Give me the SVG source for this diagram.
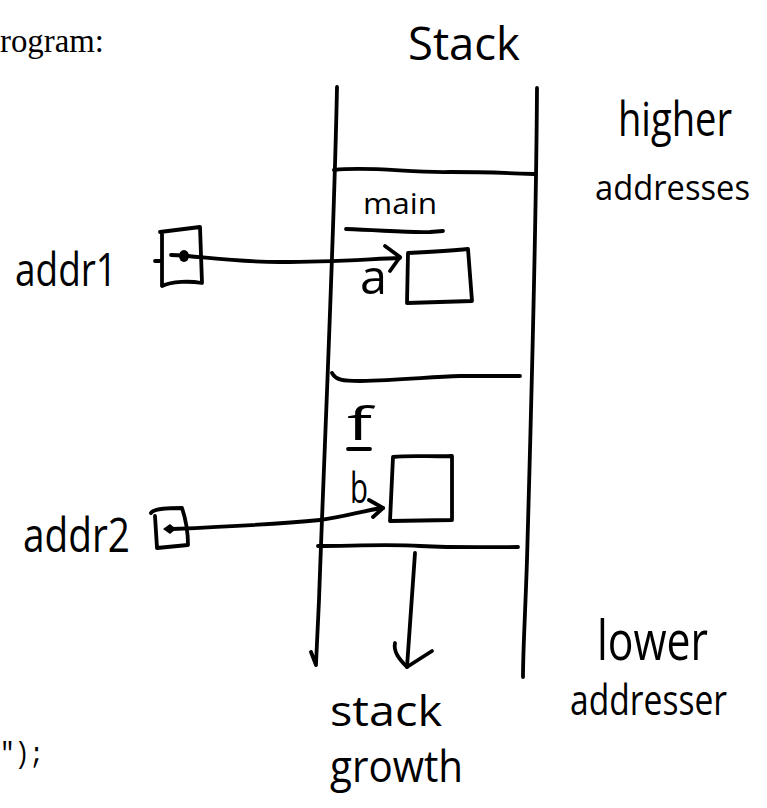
<svg xmlns="http://www.w3.org/2000/svg" width="767" height="808" viewBox="0 0 767 808">
  <style>
    .ink { fill: none; stroke: #000; stroke-width: 3.8; stroke-linecap: round; stroke-linejoin: round; }
    .hand { font-family: "Open Sans", "Liberation Sans", sans-serif; fill: #000; }
    .print { font-family: "Liberation Serif", "DejaVu Serif", serif; fill: #000; }
    .code { font-family: "Liberation Mono", "DejaVu Sans Mono", monospace; fill: #000; }
  </style>
  <rect width="767" height="808" fill="#fff"/>

  <!-- surrounding page text -->
  <text class="print" x="0" y="52" font-size="34" textLength="104" lengthAdjust="spacingAndGlyphs">rogram:</text>
  <text class="code" x="0" y="763" font-size="30" textLength="44" lengthAdjust="spacingAndGlyphs">");</text>

  <!-- the stack column -->
  <g id="stack">
    <text class="hand" x="408" y="60" font-size="46" textLength="112" lengthAdjust="spacingAndGlyphs">Stack</text>
    <path class="ink" d="M337,87 C334,240 325,430 319,600 L316,664 M311,652 L316,665"/>
    <path class="ink" d="M537,88 C536,250 530,450 527,560 C525,620 523,650 523,677"/>
  </g>

  <g id="higher-label">
    <text class="hand" x="618" y="136" font-size="48" textLength="114" lengthAdjust="spacingAndGlyphs">higher</text>
    <text class="hand" x="595" y="200" font-size="34" textLength="155" lengthAdjust="spacingAndGlyphs">addresses</text>
  </g>

  <g id="lower-label">
    <text class="hand" x="597" y="660" font-size="54" textLength="111" lengthAdjust="spacingAndGlyphs">lower</text>
    <text class="hand" x="570" y="715" font-size="42" textLength="157" lengthAdjust="spacingAndGlyphs">addresser</text>
  </g>

  <!-- frame for main -->
  <g id="frame-main">
    <path class="ink" d="M334,170 C370,166 410,173 450,172 C480,172 510,173 534,174"/>
    <text class="hand" x="363" y="214" font-size="30" textLength="74" lengthAdjust="spacingAndGlyphs">main</text>
    <path class="ink" d="M346,229 C380,230 410,233 430,232 L443,231"/>
  </g>

  <g id="var-a">
    <text class="hand" x="360" y="294" font-size="48" textLength="27" lengthAdjust="spacingAndGlyphs">a</text>
    <path class="ink" d="M408,253 C430,252 450,251 468,249 L472,301 L407,303 Z"/>
  </g>

  <!-- frame for f -->
  <g id="frame-f">
    <path class="ink" d="M332,373 C336,380 342,381 360,381 C400,380 430,377 460,376 L520,376"/>
    <text class="hand" x="347" y="440" font-size="46" textLength="25" lengthAdjust="spacingAndGlyphs">f</text>
    <path class="ink" d="M348,449 L370,449"/>
  </g>

  <g id="var-b">
    <text class="hand" x="350" y="503" font-size="42" textLength="18" lengthAdjust="spacingAndGlyphs">b</text>
    <path class="ink" d="M393,457 C410,455 435,457 452,456 L452,520 L390,521 Z"/>
  </g>

  <path class="ink" id="frame-bottom" d="M318,546 C350,546 390,544 420,546 C460,548 490,547 518,547"/>

  <!-- pointer variables -->
  <g id="addr1">
    <text class="hand" x="15" y="286" font-size="46" textLength="102" lengthAdjust="spacingAndGlyphs">addr1</text>
    <path class="ink" d="M160,232 L200,227 L202,283 C190,281 172,281 162,286 L162,232 M155,261 L162,261"/>
    <ellipse cx="184" cy="256" rx="5" ry="6" fill="#000"/>
  </g>

  <g id="addr2">
    <text class="hand" x="23" y="552" font-size="48" textLength="107" lengthAdjust="spacingAndGlyphs">addr2</text>
    <path class="ink" d="M151,513 C154,508 170,508 182,508 C186,520 188,535 188,545 L157,548 L155,516"/>
    <path d="M163,529 L170,524 L176,529 L170,534 Z" fill="#000"/>
  </g>

  <!-- connectors -->
  <g id="connectors">
    <path class="ink" d="M171,255 C200,256 230,262 280,262 C330,262 370,259 400,258"/>
    <path class="ink" d="M385,246 L400,257 L390,271"/>
    <path class="ink" d="M172,529 C220,527 280,524 320,520 C345,517 365,510 383,508"/>
    <path class="ink" d="M369,500 L383,508 L373,517"/>
    <path class="ink" d="M415,553 C412,600 409,640 407,667"/>
    <path class="ink" d="M395,643 C393,652 400,660 407,667 M432,651 L407,667"/>
  </g>

  <g id="growth-label">
    <text class="hand" x="330" y="726" font-size="42" textLength="112" lengthAdjust="spacingAndGlyphs">stack</text>
    <text class="hand" x="330" y="782" font-size="44" textLength="133" lengthAdjust="spacingAndGlyphs">growth</text>
  </g>
</svg>
